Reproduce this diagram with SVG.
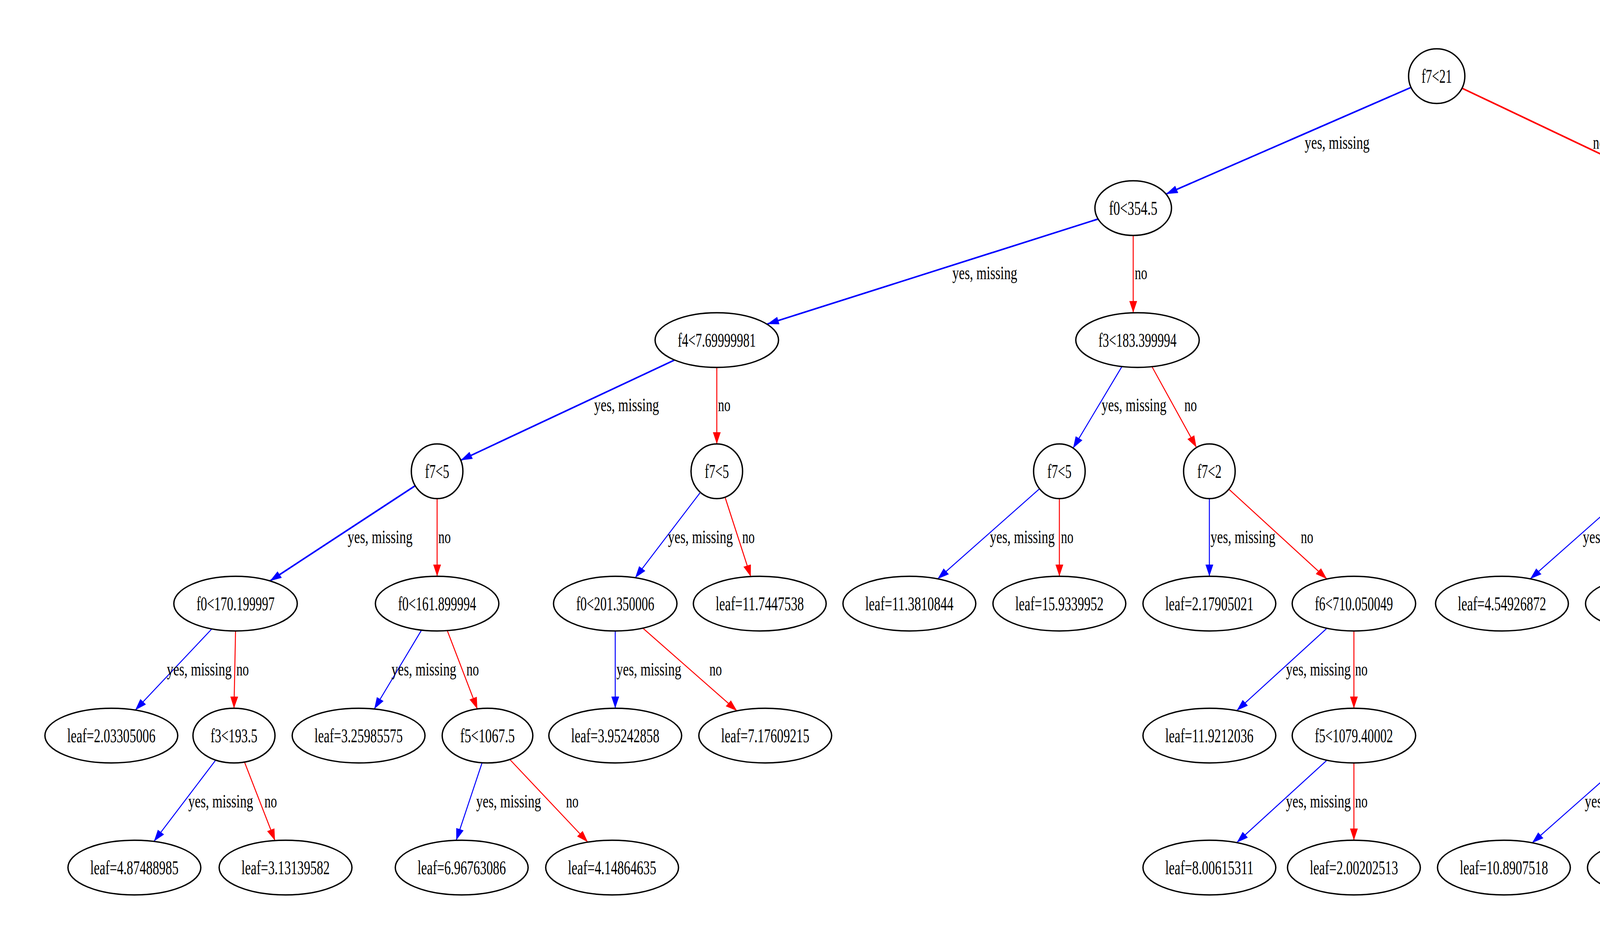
<svg xmlns="http://www.w3.org/2000/svg" width="6004" height="2387" viewBox="0 0 6004 2387">
<style>
.n ellipse{fill:#fff;stroke:#000;stroke-width:3.5}
.n text{font-family:"Liberation Serif","Times New Roman",serif;font-size:50px;text-anchor:middle;fill:#000}
.e line{stroke-width:2.5}
.e line.t{stroke-width:4}
.b{stroke:#0000ff}
.r{stroke:#ff0000}
.lb{font-family:"Liberation Serif","Times New Roman",serif;font-size:48px;fill:#000}
</style>
<defs>
<marker id="ab" markerUnits="userSpaceOnUse" markerWidth="32" markerHeight="22" refX="30" refY="10" orient="auto"><path d="M0,0 L30,10 L0,20 z" fill="#0000ff"/></marker>
<marker id="ar" markerUnits="userSpaceOnUse" markerWidth="32" markerHeight="22" refX="30" refY="10" orient="auto"><path d="M0,0 L30,10 L0,20 z" fill="#ff0000"/></marker>
</defs>
<rect width="6004" height="2387" fill="#fff"/>
<g id="connectors" class="e">
<line class="b t" x1="3612" y1="224" x2="2985" y2="497" marker-end="url(#ab)"/>
<line class="r t" x1="3743" y1="226" x2="4307" y2="494" marker-end="url(#ar)"/>
<line class="b t" x1="2811" y1="561" x2="1964" y2="830" marker-end="url(#ab)"/>
<line class="r" x1="2901" y1="603" x2="2901" y2="801" marker-end="url(#ar)"/>
<line class="b" x1="4389" y1="603" x2="4389" y2="801" marker-end="url(#ab)"/>
<line class="r t" x1="4462" y1="579" x2="4834" y2="814" marker-end="url(#ar)"/>
<line class="b t" x1="1727" y1="922" x2="1179" y2="1179" marker-end="url(#ab)"/>
<line class="r" x1="1835" y1="941" x2="1835" y2="1137" marker-end="url(#ar)"/>
<line class="b" x1="2872" y1="939" x2="2747" y2="1148" marker-end="url(#ab)"/>
<line class="r" x1="2949" y1="939" x2="3063" y2="1146" marker-end="url(#ar)"/>
<line class="b" x1="4356" y1="940" x2="4261" y2="1141" marker-end="url(#ab)"/>
<line class="r" x1="4427" y1="939" x2="4537" y2="1139" marker-end="url(#ar)"/>
<line class="b" x1="4924" y1="941" x2="4924" y2="1137" marker-end="url(#ab)"/>
<line class="r" x1="4995" y1="933" x2="5235" y2="1144" marker-end="url(#ar)"/>
<line class="b t" x1="1063" y1="1244" x2="691" y2="1488" marker-end="url(#ab)"/>
<line class="r" x1="1119" y1="1277" x2="1119" y2="1476" marker-end="url(#ar)"/>
<line class="b" x1="1793" y1="1261" x2="1626" y2="1480" marker-end="url(#ab)"/>
<line class="r" x1="1856" y1="1273" x2="1922" y2="1477" marker-end="url(#ar)"/>
<line class="b" x1="2661" y1="1252" x2="2400" y2="1483" marker-end="url(#ab)"/>
<line class="r" x1="2712" y1="1277" x2="2712" y2="1476" marker-end="url(#ar)"/>
<line class="b" x1="3096" y1="1277" x2="3096" y2="1476" marker-end="url(#ab)"/>
<line class="r" x1="3146" y1="1253" x2="3397" y2="1483" marker-end="url(#ar)"/>
<line class="b" x1="4169" y1="1260" x2="3917" y2="1483" marker-end="url(#ab)"/>
<line class="r" x1="4229" y1="1277" x2="4229" y2="1476" marker-end="url(#ar)"/>
<line class="b" x1="4576" y1="1277" x2="4589" y2="1476" marker-end="url(#ab)"/>
<line class="r" x1="4646" y1="1268" x2="4904" y2="1489" marker-end="url(#ar)"/>
<line class="b" x1="542" y1="1611" x2="346" y2="1819" marker-end="url(#ab)"/>
<line class="r" x1="603" y1="1616" x2="599" y2="1814" marker-end="url(#ar)"/>
<line class="b" x1="1079" y1="1614" x2="958" y2="1816" marker-end="url(#ab)"/>
<line class="r" x1="1145" y1="1615" x2="1222" y2="1816" marker-end="url(#ar)"/>
<line class="b" x1="1575" y1="1616" x2="1575" y2="1814" marker-end="url(#ab)"/>
<line class="r" x1="1646" y1="1609" x2="1887" y2="1821" marker-end="url(#ar)"/>
<line class="b" x1="3397" y1="1609" x2="3166" y2="1820" marker-end="url(#ab)"/>
<line class="r" x1="3466" y1="1616" x2="3466" y2="1814" marker-end="url(#ar)"/>
<line class="b" x1="4524" y1="1608" x2="4293" y2="1828" marker-end="url(#ab)"/>
<line class="r" x1="4592" y1="1616" x2="4615" y2="1814" marker-end="url(#ar)"/>
<line class="b" x1="4971" y1="1616" x2="4971" y2="1814" marker-end="url(#ab)"/>
<line class="r" x1="5037" y1="1603" x2="5295" y2="1827" marker-end="url(#ar)"/>
<line class="b" x1="552" y1="1947" x2="394" y2="2155" marker-end="url(#ab)"/>
<line class="r" x1="626" y1="1952" x2="704" y2="2153" marker-end="url(#ar)"/>
<line class="b" x1="1234" y1="1954" x2="1168" y2="2152" marker-end="url(#ab)"/>
<line class="r" x1="1305" y1="1945" x2="1505" y2="2157" marker-end="url(#ar)"/>
<line class="b" x1="3397" y1="1947" x2="3166" y2="2158" marker-end="url(#ab)"/>
<line class="r" x1="3466" y1="1954" x2="3466" y2="2152" marker-end="url(#ar)"/>
<line class="b" x1="4172" y1="1938" x2="3922" y2="2159" marker-end="url(#ab)"/>
<line class="r" x1="4234" y1="1954" x2="4234" y2="2152" marker-end="url(#ar)"/>
<line class="b" x1="4617" y1="1954" x2="4620" y2="2152" marker-end="url(#ab)"/>
<line class="r" x1="4672" y1="1934" x2="4920" y2="2158" marker-end="url(#ar)"/>
<line class="b" x1="5361" y1="1954" x2="5361" y2="2152" marker-end="url(#ab)"/>
<line class="r" x1="5427" y1="1942" x2="5674" y2="2159" marker-end="url(#ar)"/>
<g id="edge-labels">
<text class="lb" x="3340" y="381" textLength="166" lengthAdjust="spacingAndGlyphs">yes, missing</text>
<text class="lb" x="4078" y="381" textLength="32" lengthAdjust="spacingAndGlyphs">no</text>
<text class="lb" x="2438" y="715" textLength="166" lengthAdjust="spacingAndGlyphs">yes, missing</text>
<text class="lb" x="2905" y="715" textLength="32" lengthAdjust="spacingAndGlyphs">no</text>
<text class="lb" x="4392" y="715" textLength="166" lengthAdjust="spacingAndGlyphs">yes, missing</text>
<text class="lb" x="4691" y="715" textLength="32" lengthAdjust="spacingAndGlyphs">no</text>
<text class="lb" x="1521" y="1053" textLength="166" lengthAdjust="spacingAndGlyphs">yes, missing</text>
<text class="lb" x="1838" y="1053" textLength="32" lengthAdjust="spacingAndGlyphs">no</text>
<text class="lb" x="2820" y="1053" textLength="166" lengthAdjust="spacingAndGlyphs">yes, missing</text>
<text class="lb" x="3032" y="1053" textLength="32" lengthAdjust="spacingAndGlyphs">no</text>
<text class="lb" x="4301" y="1053" textLength="166" lengthAdjust="spacingAndGlyphs">yes, missing</text>
<text class="lb" x="4495" y="1053" textLength="32" lengthAdjust="spacingAndGlyphs">no</text>
<text class="lb" x="4927" y="1053" textLength="166" lengthAdjust="spacingAndGlyphs">yes, missing</text>
<text class="lb" x="5165" y="1053" textLength="32" lengthAdjust="spacingAndGlyphs">no</text>
<text class="lb" x="890" y="1391" textLength="166" lengthAdjust="spacingAndGlyphs">yes, missing</text>
<text class="lb" x="1122" y="1391" textLength="32" lengthAdjust="spacingAndGlyphs">no</text>
<text class="lb" x="1710" y="1391" textLength="166" lengthAdjust="spacingAndGlyphs">yes, missing</text>
<text class="lb" x="1900" y="1391" textLength="32" lengthAdjust="spacingAndGlyphs">no</text>
<text class="lb" x="2534" y="1391" textLength="166" lengthAdjust="spacingAndGlyphs">yes, missing</text>
<text class="lb" x="2716" y="1391" textLength="32" lengthAdjust="spacingAndGlyphs">no</text>
<text class="lb" x="3099" y="1391" textLength="166" lengthAdjust="spacingAndGlyphs">yes, missing</text>
<text class="lb" x="3330" y="1391" textLength="32" lengthAdjust="spacingAndGlyphs">no</text>
<text class="lb" x="4052" y="1391" textLength="166" lengthAdjust="spacingAndGlyphs">yes, missing</text>
<text class="lb" x="4232" y="1391" textLength="32" lengthAdjust="spacingAndGlyphs">no</text>
<text class="lb" x="4582" y="1391" textLength="166" lengthAdjust="spacingAndGlyphs">yes, missing</text>
<text class="lb" x="4819" y="1391" textLength="32" lengthAdjust="spacingAndGlyphs">no</text>
<text class="lb" x="427" y="1730" textLength="166" lengthAdjust="spacingAndGlyphs">yes, missing</text>
<text class="lb" x="605" y="1730" textLength="32" lengthAdjust="spacingAndGlyphs">no</text>
<text class="lb" x="1002" y="1730" textLength="166" lengthAdjust="spacingAndGlyphs">yes, missing</text>
<text class="lb" x="1194" y="1730" textLength="32" lengthAdjust="spacingAndGlyphs">no</text>
<text class="lb" x="1578" y="1730" textLength="166" lengthAdjust="spacingAndGlyphs">yes, missing</text>
<text class="lb" x="1816" y="1730" textLength="32" lengthAdjust="spacingAndGlyphs">no</text>
<text class="lb" x="3292" y="1730" textLength="166" lengthAdjust="spacingAndGlyphs">yes, missing</text>
<text class="lb" x="3469" y="1730" textLength="32" lengthAdjust="spacingAndGlyphs">no</text>
<text class="lb" x="4424" y="1730" textLength="166" lengthAdjust="spacingAndGlyphs">yes, missing</text>
<text class="lb" x="4608" y="1730" textLength="32" lengthAdjust="spacingAndGlyphs">no</text>
<text class="lb" x="4974" y="1730" textLength="166" lengthAdjust="spacingAndGlyphs">yes, missing</text>
<text class="lb" x="5213" y="1730" textLength="32" lengthAdjust="spacingAndGlyphs">no</text>
<text class="lb" x="482" y="2068" textLength="166" lengthAdjust="spacingAndGlyphs">yes, missing</text>
<text class="lb" x="677" y="2068" textLength="32" lengthAdjust="spacingAndGlyphs">no</text>
<text class="lb" x="1219" y="2068" textLength="166" lengthAdjust="spacingAndGlyphs">yes, missing</text>
<text class="lb" x="1449" y="2068" textLength="32" lengthAdjust="spacingAndGlyphs">no</text>
<text class="lb" x="3292" y="2068" textLength="166" lengthAdjust="spacingAndGlyphs">yes, missing</text>
<text class="lb" x="3469" y="2068" textLength="32" lengthAdjust="spacingAndGlyphs">no</text>
<text class="lb" x="4057" y="2068" textLength="166" lengthAdjust="spacingAndGlyphs">yes, missing</text>
<text class="lb" x="4237" y="2068" textLength="32" lengthAdjust="spacingAndGlyphs">no</text>
<text class="lb" x="4620" y="2068" textLength="166" lengthAdjust="spacingAndGlyphs">yes, missing</text>
<text class="lb" x="4856" y="2068" textLength="32" lengthAdjust="spacingAndGlyphs">no</text>
<text class="lb" x="5364" y="2068" textLength="166" lengthAdjust="spacingAndGlyphs">yes, missing</text>
<text class="lb" x="5600" y="2068" textLength="32" lengthAdjust="spacingAndGlyphs">no</text>
</g>
</g>
<g id="n0" class="n"><ellipse cx="3678" cy="195" rx="72" ry="70"/><text x="3678" y="212" textLength="78" lengthAdjust="spacingAndGlyphs">f7&lt;21</text></g>
<g id="n1" class="n"><ellipse cx="2901" cy="533" rx="98" ry="70"/><text x="2901" y="550" textLength="124" lengthAdjust="spacingAndGlyphs">f0&lt;354.5</text></g>
<g id="n2" class="n"><ellipse cx="4389" cy="533" rx="98" ry="70"/><text x="4389" y="550" textLength="124" lengthAdjust="spacingAndGlyphs">f0&lt;357.5</text></g>
<g id="n3" class="n"><ellipse cx="1835" cy="871" rx="158" ry="70"/><text x="1835" y="888" textLength="200" lengthAdjust="spacingAndGlyphs">f4&lt;7.69999981</text></g>
<g id="n4" class="n"><ellipse cx="2912" cy="871" rx="158" ry="70"/><text x="2912" y="888" textLength="200" lengthAdjust="spacingAndGlyphs">f3&lt;183.399994</text></g>
<g id="n5" class="n"><ellipse cx="4389" cy="871" rx="158" ry="70"/><text x="4389" y="888" textLength="200" lengthAdjust="spacingAndGlyphs">f0&lt;164.800003</text></g>
<g id="n6" class="n"><ellipse cx="4924" cy="871" rx="156" ry="70"/><text x="4924" y="888" textLength="200" lengthAdjust="spacingAndGlyphs">f3&lt;183.050003</text></g>
<g id="n7" class="n"><ellipse cx="1119" cy="1207" rx="66" ry="70"/><text x="1119" y="1224" textLength="62" lengthAdjust="spacingAndGlyphs">f7&lt;5</text></g>
<g id="n8" class="n"><ellipse cx="1835" cy="1207" rx="66" ry="70"/><text x="1835" y="1224" textLength="62" lengthAdjust="spacingAndGlyphs">f7&lt;5</text></g>
<g id="n9" class="n"><ellipse cx="2712" cy="1207" rx="66" ry="70"/><text x="2712" y="1224" textLength="62" lengthAdjust="spacingAndGlyphs">f7&lt;5</text></g>
<g id="n10" class="n"><ellipse cx="3096" cy="1207" rx="66" ry="70"/><text x="3096" y="1224" textLength="62" lengthAdjust="spacingAndGlyphs">f7&lt;2</text></g>
<g id="n11" class="n"><ellipse cx="4229" cy="1207" rx="93" ry="70"/><text x="4229" y="1224" textLength="108" lengthAdjust="spacingAndGlyphs">f1&lt;58.5</text></g>
<g id="n12" class="n"><ellipse cx="4575" cy="1207" rx="145" ry="70"/><text x="4575" y="1224" textLength="200" lengthAdjust="spacingAndGlyphs">f1&lt;14.3000002</text></g>
<g id="n13" class="n"><ellipse cx="4924" cy="1207" rx="170" ry="70"/><text x="4924" y="1224" textLength="226" lengthAdjust="spacingAndGlyphs">leaf=23.3430672</text></g>
<g id="n14" class="n"><ellipse cx="5308" cy="1207" rx="170" ry="70"/><text x="5308" y="1224" textLength="226" lengthAdjust="spacingAndGlyphs">leaf=16.5046768</text></g>
<g id="n15" class="n"><ellipse cx="603" cy="1546" rx="158" ry="70"/><text x="603" y="1563" textLength="200" lengthAdjust="spacingAndGlyphs">f0&lt;170.199997</text></g>
<g id="n16" class="n"><ellipse cx="1119" cy="1546" rx="158" ry="70"/><text x="1119" y="1563" textLength="200" lengthAdjust="spacingAndGlyphs">f0&lt;161.899994</text></g>
<g id="n17" class="n"><ellipse cx="1575" cy="1546" rx="158" ry="70"/><text x="1575" y="1563" textLength="200" lengthAdjust="spacingAndGlyphs">f0&lt;201.350006</text></g>
<g id="n18" class="n"><ellipse cx="1945" cy="1546" rx="170" ry="70"/><text x="1945" y="1563" textLength="226" lengthAdjust="spacingAndGlyphs">leaf=11.7447538</text></g>
<g id="n19" class="n"><ellipse cx="2328" cy="1546" rx="170" ry="70"/><text x="2328" y="1563" textLength="226" lengthAdjust="spacingAndGlyphs">leaf=11.3810844</text></g>
<g id="n20" class="n"><ellipse cx="2712" cy="1546" rx="170" ry="70"/><text x="2712" y="1563" textLength="226" lengthAdjust="spacingAndGlyphs">leaf=15.9339952</text></g>
<g id="n21" class="n"><ellipse cx="3096" cy="1546" rx="170" ry="70"/><text x="3096" y="1563" textLength="226" lengthAdjust="spacingAndGlyphs">leaf=2.17905021</text></g>
<g id="n22" class="n"><ellipse cx="3466" cy="1546" rx="158" ry="70"/><text x="3466" y="1563" textLength="200" lengthAdjust="spacingAndGlyphs">f6&lt;710.050049</text></g>
<g id="n23" class="n"><ellipse cx="3845" cy="1546" rx="170" ry="70"/><text x="3845" y="1563" textLength="226" lengthAdjust="spacingAndGlyphs">leaf=4.54926872</text></g>
<g id="n24" class="n"><ellipse cx="4229" cy="1546" rx="170" ry="70"/><text x="4229" y="1563" textLength="226" lengthAdjust="spacingAndGlyphs">leaf=10.3249636</text></g>
<g id="n25" class="n"><ellipse cx="4590" cy="1546" rx="145" ry="70"/><text x="4590" y="1563" textLength="186" lengthAdjust="spacingAndGlyphs">f4&lt;2.3499999</text></g>
<g id="n26" class="n"><ellipse cx="4971" cy="1546" rx="115" ry="70"/><text x="4971" y="1563" textLength="140" lengthAdjust="spacingAndGlyphs">f3&lt;184.75</text></g>
<g id="n27" class="n"><ellipse cx="285" cy="1884" rx="170" ry="70"/><text x="285" y="1901" textLength="226" lengthAdjust="spacingAndGlyphs">leaf=2.03305006</text></g>
<g id="n28" class="n"><ellipse cx="599" cy="1884" rx="105" ry="70"/><text x="599" y="1901" textLength="120" lengthAdjust="spacingAndGlyphs">f3&lt;193.5</text></g>
<g id="n29" class="n"><ellipse cx="918" cy="1884" rx="170" ry="70"/><text x="918" y="1901" textLength="226" lengthAdjust="spacingAndGlyphs">leaf=3.25985575</text></g>
<g id="n30" class="n"><ellipse cx="1248" cy="1884" rx="116" ry="70"/><text x="1248" y="1901" textLength="140" lengthAdjust="spacingAndGlyphs">f5&lt;1067.5</text></g>
<g id="n31" class="n"><ellipse cx="1575" cy="1884" rx="170" ry="70"/><text x="1575" y="1901" textLength="226" lengthAdjust="spacingAndGlyphs">leaf=3.95242858</text></g>
<g id="n32" class="n"><ellipse cx="1959" cy="1884" rx="170" ry="70"/><text x="1959" y="1901" textLength="226" lengthAdjust="spacingAndGlyphs">leaf=7.17609215</text></g>
<g id="n33" class="n"><ellipse cx="3096" cy="1884" rx="170" ry="70"/><text x="3096" y="1901" textLength="226" lengthAdjust="spacingAndGlyphs">leaf=11.9212036</text></g>
<g id="n34" class="n"><ellipse cx="3466" cy="1884" rx="158" ry="70"/><text x="3466" y="1901" textLength="200" lengthAdjust="spacingAndGlyphs">f5&lt;1079.40002</text></g>
<g id="n35" class="n"><ellipse cx="4234" cy="1884" rx="97" ry="70"/><text x="4234" y="1901" textLength="108" lengthAdjust="spacingAndGlyphs">f5&lt;1080</text></g>
<g id="n36" class="n"><ellipse cx="4617" cy="1884" rx="79" ry="70"/><text x="4617" y="1901" textLength="78" lengthAdjust="spacingAndGlyphs">f7&lt;42</text></g>
<g id="n37" class="n"><ellipse cx="4971" cy="1884" rx="170" ry="70"/><text x="4971" y="1901" textLength="226" lengthAdjust="spacingAndGlyphs">leaf=18.3119392</text></g>
<g id="n38" class="n"><ellipse cx="5361" cy="1884" rx="115" ry="70"/><text x="5361" y="1901" textLength="140" lengthAdjust="spacingAndGlyphs">f3&lt;185.75</text></g>
<g id="n39" class="n"><ellipse cx="344" cy="2222" rx="170" ry="70"/><text x="344" y="2239" textLength="226" lengthAdjust="spacingAndGlyphs">leaf=4.87488985</text></g>
<g id="n40" class="n"><ellipse cx="731" cy="2222" rx="170" ry="70"/><text x="731" y="2239" textLength="226" lengthAdjust="spacingAndGlyphs">leaf=3.13139582</text></g>
<g id="n41" class="n"><ellipse cx="1182" cy="2222" rx="170" ry="70"/><text x="1182" y="2239" textLength="226" lengthAdjust="spacingAndGlyphs">leaf=6.96763086</text></g>
<g id="n42" class="n"><ellipse cx="1567" cy="2222" rx="170" ry="70"/><text x="1567" y="2239" textLength="226" lengthAdjust="spacingAndGlyphs">leaf=4.14864635</text></g>
<g id="n43" class="n"><ellipse cx="3096" cy="2222" rx="170" ry="70"/><text x="3096" y="2239" textLength="226" lengthAdjust="spacingAndGlyphs">leaf=8.00615311</text></g>
<g id="n44" class="n"><ellipse cx="3466" cy="2222" rx="170" ry="70"/><text x="3466" y="2239" textLength="226" lengthAdjust="spacingAndGlyphs">leaf=2.00202513</text></g>
<g id="n45" class="n"><ellipse cx="3850" cy="2222" rx="170" ry="70"/><text x="3850" y="2239" textLength="226" lengthAdjust="spacingAndGlyphs">leaf=10.8907518</text></g>
<g id="n46" class="n"><ellipse cx="4234" cy="2222" rx="170" ry="70"/><text x="4234" y="2239" textLength="226" lengthAdjust="spacingAndGlyphs">leaf=6.62353373</text></g>
<g id="n47" class="n"><ellipse cx="4620" cy="2222" rx="170" ry="70"/><text x="4620" y="2239" textLength="226" lengthAdjust="spacingAndGlyphs">leaf=12.0333061</text></g>
<g id="n48" class="n"><ellipse cx="4990" cy="2222" rx="170" ry="70"/><text x="4990" y="2239" textLength="212" lengthAdjust="spacingAndGlyphs">leaf=15.138689</text></g>
<g id="n49" class="n"><ellipse cx="5361" cy="2222" rx="170" ry="70"/><text x="5361" y="2239" textLength="226" lengthAdjust="spacingAndGlyphs">leaf=9.25640011</text></g>
<g id="n50" class="n"><ellipse cx="5746" cy="2222" rx="170" ry="70"/><text x="5746" y="2239" textLength="226" lengthAdjust="spacingAndGlyphs">leaf=15.2375851</text></g>
</svg>
